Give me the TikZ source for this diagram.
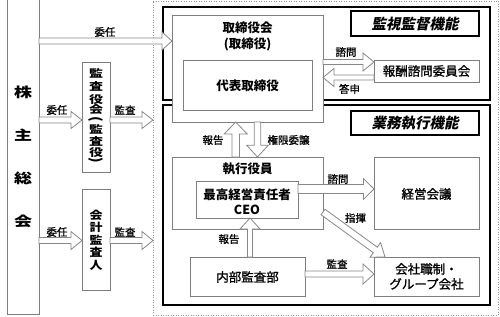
\documentclass[tikz,border=0pt]{standalone}
\usepackage{graphicx}
\usepackage{fontspec}
\setmainfont{Noto Sans CJK JP}
\newfontfamily\jpsl{Noto Sans CJK JP}[FakeSlant=0.2]
\newfontfamily\jpmid{Noto Sans CJK JP}[FakeBold=1.2]
\usetikzlibrary{calc}
\definecolor{bgray}{RGB}{125,125,125}
\definecolor{agray}{RGB}{135,135,135}
\definecolor{dgray}{RGB}{150,150,150}
\newcommand\sqz[2]{\scalebox{1}[#1]{#2}}
\newcommand\vparen[1]{\rotatebox[origin=c]{-90}{#1}}
\newcommand\blkarrow[5]{%
  \path (#1) coordinate (bs) (#2) coordinate (bt);
  \path ($(bt)!#5!(bs)$) coordinate (bh);
  \draw[blk] ($(bs)!#3!90:(bt)$) -- ($(bh)!#3!90:(bt)$) -- ($(bh)!#4!90:(bt)$) -- (bt)
    -- ($(bh)!#4!-90:(bt)$) -- ($(bh)!#3!-90:(bt)$) -- ($(bs)!#3!-90:(bt)$) -- cycle;}
\tikzset{
  box/.style={draw=bgray, line width=0.8pt, fill=white, inner sep=0pt, outer sep=0pt, anchor=north west},
  thickbox/.style={draw=black, line width=1.6pt, inner sep=0pt, outer sep=0pt, anchor=north west},
  tagbox/.style={draw=black, line width=1.1pt, fill=white, inner sep=0pt, outer sep=0pt, anchor=north west},
  blk/.style={draw=agray, line width=0.8pt, fill=white, line join=miter},
  lbl/.style={inner sep=0pt, font=\jpmid\fontsize{10.5}{12}\selectfont},
  btxt/.style={inner sep=0pt, align=center, font=\bfseries\fontsize{12.5}{16}\selectfont},
  rtxt/.style={inner sep=0pt, align=center, font=\jpmid\fontsize{12.5}{15}\selectfont},
  tagtxt/.style={inner sep=0pt, font=\jpsl\bfseries\fontsize{14.5}{16}\selectfont},
}
\begin{document}
\begin{tikzpicture}[x=1pt,y=-1pt]
\useasboundingbox (0,0) rectangle (500,316);
% outer dotted frame
\node[draw=dgray, line width=0.6pt, dash pattern=on 1pt off 1.5pt, inner sep=0pt, outer sep=0pt, anchor=north west, minimum width=345, minimum height=314] (outer) at (153,1) {};
% thick function boxes
\node[thickbox, minimum width=327, minimum height=93] (sup) at (163,7) {};
\node[thickbox, minimum width=327, minimum height=200] (exe) at (163,105) {};
% shareholders
\node[inner sep=0pt, outer sep=0pt, anchor=north west, minimum width=32, minimum height=314] (sh) at (7,0) {};
\draw[draw=bgray, line width=0.8pt] (sh.north west) -- (sh.south west) -- (sh.south east) -- (sh.north east);
\node[inner sep=0pt, align=center, font=\bfseries\fontsize{18}{43}\selectfont] (sht) at (23,157) {\sqz{0.75}{株}\\\sqz{0.75}{主}\\\sqz{0.75}{総}\\\sqz{0.75}{会}};
% auditors
\node[box, minimum width=28, minimum height=110] (kansa) at (82,62) {};
\node[inner sep=0pt, align=center, font=\bfseries\fontsize{14}{13}\selectfont] (kansat) at (96,117) {\sqz{0.75}{監}\\\sqz{0.75}{査}\\\sqz{0.75}{役}\\[-3pt]\sqz{0.75}{会}\\[-3pt]\vparen{(}\\[-3pt]\sqz{0.75}{監}\\[-1pt]\sqz{0.75}{査}\\[-2pt]\sqz{0.75}{役}\\[-5pt]\vparen{)}};
\node[box, minimum width=28, minimum height=101] (kaikei) at (82,189) {};
\node[inner sep=0pt, align=center, font=\bfseries\fontsize{13}{12.5}\selectfont] (kaikeit) at (96,240) {\sqz{0.85}{会}\\\sqz{0.85}{計}\\\sqz{0.85}{監}\\\sqz{0.85}{査}\\\sqz{0.85}{人}};
% board
\node[box, minimum width=151, minimum height=107] (board) at (172,15) {};
\node[btxt] (boardt) at (247.5,36) {取締役会\\(取締役)};
\node[box, minimum width=129, minimum height=50] (rep) at (183,60) {};
\node[btxt] (rept) at (247.5,86) {代表取締役};
% tags
\node[tagbox, minimum width=128, minimum height=25] (suptag) at (351,11) {};
\node[tagtxt] (suptagt) at (415,23.5) {監視監督機能};
\node[tagbox, minimum width=128, minimum height=24] (exetag) at (351,111) {};
\node[tagtxt] (exetagt) at (415,123) {業務執行機能};
% committee
\node[box, minimum width=105, minimum height=22] (comp) at (374,60) {};
\node[rtxt] (compt) at (426.5,71) {報酬諮問委員会};
% officers
\node[box, minimum width=151, minimum height=72] (off) at (172,157) {};
\node[btxt] (offt) at (247.5,169) {執行役員};
\node[box, minimum width=102, minimum height=37] (ceo) at (196,181) {};
\node[btxt, font=\bfseries\fontsize{12.5}{15.5}\selectfont] (ceot) at (247,201.5) {最高経営責任者\\CEO};
\node[box, minimum width=115, minimum height=39] (audit) at (190,257) {};
\node[rtxt] (auditt) at (247.5,277) {内部監査部};
\node[box, minimum width=105, minimum height=72] (mgmt) at (374,157) {};
\node[rtxt] (mgmtt) at (426.5,194) {経営会議};
\node[box, minimum width=105, minimum height=39] (group) at (374,257) {};
\node[rtxt] (groupt) at (426.5,276.5) {会社職制・\\グループ会社};
% levels
\coordinate (lvA) at (0,41);
\coordinate (lvB) at (0,120);
\coordinate (lvC) at (0,240.5);
\coordinate (lvD) at (0,62);
\coordinate (lvE) at (0,77.5);
\coordinate (lvI) at (0,189);
\coordinate (lvJ) at (0,274);
\coordinate (lvK) at (0,212);
\coordinate (xF) at (235.7,0);
\coordinate (xG) at (257.5,0);
\coordinate (xH) at (250,0);
\coordinate (xK) at (385,0);
% arrows
\blkarrow{sh.east |- lvA}{board.west |- lvA}{3pt}{9pt}{10pt}
\blkarrow{sh.east |- lvB}{kansa.west |- lvB}{3pt}{8.5pt}{11pt}
\blkarrow{kansa.east |- lvB}{outer.west |- lvB}{3pt}{8.5pt}{11pt}
\blkarrow{sh.east |- lvC}{kaikei.west |- lvC}{3pt}{9pt}{11pt}
\blkarrow{kaikei.east |- lvC}{outer.west |- lvC}{3pt}{9pt}{11pt}
\blkarrow{board.east |- lvD}{comp.west |- lvD}{2.5pt}{9pt}{11pt}
\blkarrow{comp.west |- lvE}{board.east |- lvE}{2.5pt}{9pt}{11pt}
\blkarrow{off.north -| xF}{board.south -| xF}{3.8pt}{11.5pt}{12pt}
\blkarrow{board.south -| xG}{off.north -| xG}{3.3pt}{10.8pt}{11.7pt}
\blkarrow{audit.north -| xH}{ceo.south -| xH}{2.5pt}{10pt}{11pt}
\blkarrow{ceo.east |- lvI}{mgmt.west |- lvI}{4.5pt}{10.3pt}{10.5pt}
\blkarrow{off.east |- lvK}{group.north -| xK}{3.4pt}{9pt}{12pt}
\blkarrow{audit.east |- lvJ}{group.west |- lvJ}{3pt}{10pt}{11pt}
% labels
\node[lbl] (l1) at (105,32) {委任};
\node[lbl] (l2) at (57,110) {委任};
\node[lbl] (l3) at (125,110) {監査};
\node[lbl] (l4) at (57,232) {委任};
\node[lbl] (l5) at (125,232) {監査};
\node[lbl] (l6) at (346,52) {諮問};
\node[lbl] (l7) at (349.5,89) {答申};
\node[lbl] (l8) at (213,140) {報告};
\node[lbl] (l9) at (288.5,140) {権限委譲};
\node[lbl] (l10) at (229,239) {報告};
\node[lbl] (l11) at (338,179) {諮問};
\node[lbl] (l12) at (355.5,218) {指揮};
\node[lbl] (l13) at (337,264) {監査};
\end{tikzpicture}
\end{document}
